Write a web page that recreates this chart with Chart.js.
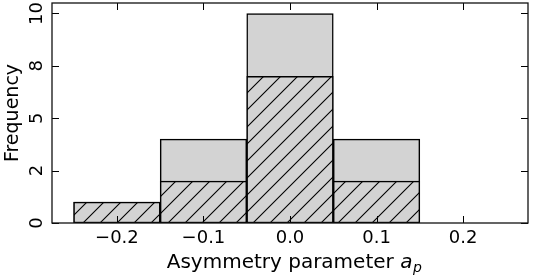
<!DOCTYPE html>
<html><head><meta charset="utf-8">
<script src="https://cdn.jsdelivr.net/npm/chart.js@4.4.1/dist/chart.umd.min.js"></script>
<style>html,body{margin:0;padding:0;background:#fff}#wrap{width:533px;height:280px}</style>
</head><body><div id="wrap"><canvas id="c" width="533" height="280"></canvas></div>
<script>
const binCenters = [-0.2, -0.1, 0.0, 0.1, 0.2];
const totalCounts = [1, 4, 10, 4, 0];
const hatchedCounts = [1, 2, 7, 2, 0];
const xTicks = [-0.2, -0.1, 0.0, 0.1, 0.2];
const xTickLabels = ['\u22120.2', '\u22120.1', '0.0', '0.1', '0.2'];
const yTicks = [0, 2.5, 5, 7.5, 10];
const yTickLabels = ['0', '2', '5', '8', '10'];

const FONT = 'DejaVu Sans';

function makeHatch() {
  const s = 17;
  const c = document.createElement('canvas');
  c.width = s; c.height = s;
  const g = c.getContext('2d');
  g.fillStyle = '#d3d3d3';
  g.fillRect(0, 0, s, s);
  g.strokeStyle = '#000';
  g.lineWidth = 1.1;
  g.beginPath();
  g.moveTo(-2, s + 2); g.lineTo(s + 2, -2);
  g.moveTo(-2, 2); g.lineTo(2, -2);
  g.moveTo(s - 2, s + 2); g.lineTo(s + 2, s - 2);
  g.stroke();
  return document.getElementById('c').getContext('2d').createPattern(c, 'repeat');
}

const framePlugin = {
  id: 'frame',
  afterDatasetsDraw(chart) {
    const ctx = chart.ctx;
    const a = chart.chartArea;
    const xs = chart.scales.x, ys = chart.scales.y;
    ctx.save();
    ctx.strokeStyle = '#000';
    ctx.lineWidth = 1;
    ctx.beginPath();
    xTicks.forEach(v => {
      const px = Math.round(xs.getPixelForValue(v)) + 0.5;
      ctx.moveTo(px, a.bottom); ctx.lineTo(px, a.bottom - 7);
      ctx.moveTo(px, a.top); ctx.lineTo(px, a.top + 7);
    });
    yTicks.forEach(v => {
      const py = Math.round(ys.getPixelForValue(v)) + 0.5;
      ctx.moveTo(a.left, py); ctx.lineTo(a.left + 7, py);
      ctx.moveTo(a.right, py); ctx.lineTo(a.right - 7, py);
    });
    ctx.stroke();
    ctx.lineWidth = 1.3;
    ctx.strokeStyle = '#111';
    ctx.strokeRect(a.left, a.top, a.right - a.left, a.bottom - a.top);
    // x axis title with italic a_p
    const main = 'Asymmetry parameter ';
    ctx.fillStyle = '#000';
    ctx.textBaseline = 'alphabetic';
    ctx.font = '20px "' + FONT + '"';
    const w1 = ctx.measureText(main).width;
    ctx.font = 'italic 20px "' + FONT + '"';
    const w2 = ctx.measureText('a').width;
    ctx.font = 'italic 14px "' + FONT + '"';
    const w3 = ctx.measureText('p').width;
    const total = w1 + w2 + w3;
    let x0 = 294 - total / 2;
    const by = 268;
    ctx.textAlign = 'left';
    ctx.font = '20px "' + FONT + '"';
    ctx.fillText(main, x0, by);
    ctx.font = 'italic 20px "' + FONT + '"';
    ctx.fillText('a', x0 + w1, by);
    ctx.font = 'italic 14px "' + FONT + '"';
    ctx.fillText('p', x0 + w1 + w2 + 0.5, by + 4);
    ctx.restore();
  }
};

const hatch = makeHatch();

new Chart(document.getElementById('c'), {
  type: 'bar',
  data: {
    datasets: [
      {
        label: 'all',
        data: binCenters.map((x, i) => ({x: x, y: totalCounts[i]})),
        backgroundColor: '#d3d3d3',
        borderColor: '#000',
        borderWidth: 1.5,
        borderSkipped: false,
        grouped: false,
        barPercentage: 1,
        categoryPercentage: 1,
        order: 2
      },
      {
        label: 'subset',
        data: binCenters.map((x, i) => ({x: x, y: hatchedCounts[i]})),
        backgroundColor: hatch,
        borderColor: '#000',
        borderWidth: 1.5,
        borderSkipped: false,
        grouped: false,
        barPercentage: 1,
        categoryPercentage: 1,
        order: 1
      }
    ]
  },
  options: {
    responsive: false,
    devicePixelRatio: 1,
    animation: false,
    layout: {padding: {top: 3, right: 5, left: 0, bottom: 0}},
    plugins: {legend: {display: false}, tooltip: {enabled: false}},
    scales: {
      x: {
        type: 'linear',
        min: -0.275,
        max: 0.275,
        offset: false,
        grid: {display: false, drawTicks: false},
        border: {display: false},
        afterBuildTicks: s => { s.ticks = xTicks.map(v => ({value: v})); },
        afterFit: s => { s.height = 57; s.paddingLeft = 0; s.paddingRight = 0; },
        ticks: {
          color: '#000',
          font: {family: FONT, size: 18},
          padding: 5,
          maxRotation: 0,
          autoSkip: false,
          callback: (v, i) => xTickLabels[i]
        }
      },
      y: {
        type: 'linear',
        min: 0,
        max: 10.5,
        grid: {display: false, drawTicks: false},
        border: {display: false},
        afterBuildTicks: s => { s.ticks = yTicks.map(v => ({value: v})); },
        afterFit: s => { s.width = 52; s.paddingTop = 0; s.paddingBottom = 0; },
        title: {
          display: true,
          text: 'Frequency',
          color: '#000',
          font: {family: FONT, size: 19},
          padding: {top: 2, bottom: 0}
        },
        ticks: {
          color: '#000',
          font: {family: FONT, size: 18},
          padding: 3,
          minRotation: 90,
          maxRotation: 90,
          crossAlign: 'center',
          autoSkip: false,
          callback: (v, i) => yTickLabels[i]
        }
      }
    }
  },
  plugins: [framePlugin]
});
</script>
</body></html>
